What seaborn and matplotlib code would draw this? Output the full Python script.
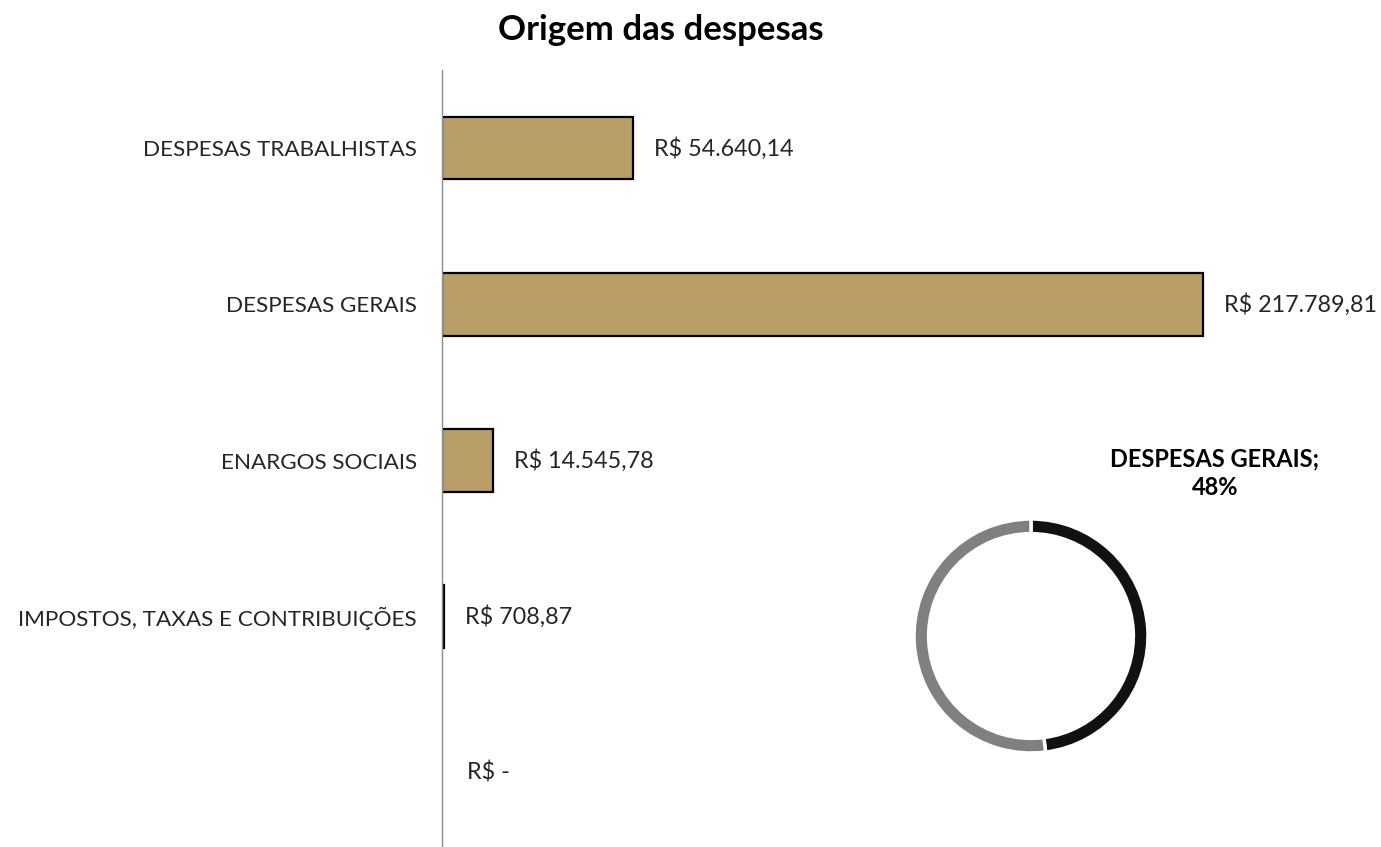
import matplotlib
matplotlib.use("Agg")
import matplotlib.pyplot as plt
import seaborn as sns
import pandas as pd

# Expense categories and amounts (R$)
categories = [
    "DESPESAS TRABALHISTAS",
    "DESPESAS GERAIS",
    "ENARGOS SOCIAIS",
    "IMPOSTOS, TAXAS E CONTRIBUIÇÕES",
    "",
]
amounts = [54640.14, 217789.81, 14545.78, 708.87, 0.0]

# Share highlighted in the ring chart
donut_names = ["DESPESAS GERAIS", ""]
donut_shares = [48, 52]

title = "Origem das despesas"

sns.set_theme(style="white")
plt.rcParams["font.family"] = ["Lato", "DejaVu Sans"]

BAR_COLOR = "#B99E67"
TEXT_COLOR = "#262626"


def brl(v):
    if v == 0:
        return "R$ -"
    s = f"{v:,.2f}".replace(",", "X").replace(".", ",").replace("X", ".")
    return f"R$ {s}"


df = pd.DataFrame({"categoria": categories, "valor": amounts})

W, H = 1381, 847
fig = plt.figure(figsize=(W / 100, H / 100), dpi=100)
fig.patch.set_facecolor("white")

# Bar axes
ax = fig.add_axes([442 / W, 1 - 851 / H, 873.5 / W, 781 / H])
sns.barplot(
    data=df, x="valor", y="categoria", orient="h", ax=ax,
    color=BAR_COLOR, width=0.4, edgecolor="black", linewidth=1.6,
    saturation=1, order=categories,
)
for p in ax.patches:
    if p.get_width() == 0:
        p.set_linewidth(0)

ax.set_xlim(0, 250000)
ax.set_ylim(4.5, -0.5)
ax.set_xlabel("")
ax.set_ylabel("")
ax.xaxis.set_visible(False)
for side in ("top", "right", "bottom"):
    ax.spines[side].set_visible(False)
ax.spines["left"].set_color("#8c8c8c")
ax.spines["left"].set_linewidth(1.0)
ax.tick_params(axis="y", length=0, pad=18, labelsize=16.2, labelcolor=TEXT_COLOR)
ax.set_facecolor("none")

for i, v in enumerate(amounts):
    ax.annotate(brl(v), xy=(v, i), xytext=(21 if v else 25, 0), textcoords="offset pixels",
                ha="left", va="center", fontsize=16.8, color=TEXT_COLOR)

fig.text(661 / W, 1 - 30 / H, title, ha="center", va="center",
         fontsize=25, fontweight="bold", color="black")

# Ring chart
pax = fig.add_axes([(1031 - 117) / W, 1 - (636 + 117) / H, 234 / W, 234 / H])
pax.pie(donut_shares, colors=["#111111", "#808080"], startangle=90, counterclock=False,
        wedgeprops=dict(width=0.125, edgecolor="white", linewidth=2.5))
pax.set_xlim(-1.0, 1.0)
pax.set_ylim(-1.0, 1.0)
pax.set_aspect("equal")
pax.axis("off")

fig.text(1215 / W, 1 - 473 / H, f"{donut_names[0]};\n{donut_shares[0]}%",
         ha="center", va="center", fontsize=17, fontweight="bold",
         color="black", linespacing=1.3)

fig.savefig("out.png", dpi=100, facecolor="white")
